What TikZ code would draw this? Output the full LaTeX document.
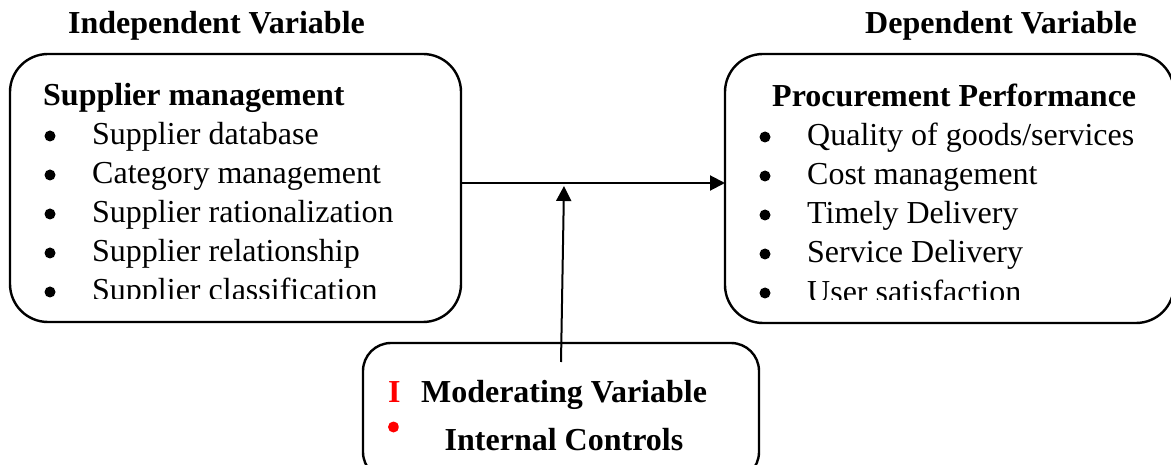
\documentclass[tikz,border=0pt]{standalone}
\usepackage{fontspec}
\setmainfont{Liberation Serif}
\usetikzlibrary{arrows.meta}
\tikzset{
  box/.style={draw=black, line width=2.4pt, rounded corners=38pt, inner sep=0pt, outer sep=0pt},
  mbox/.style={draw=black, line width=2.4pt, rounded corners=28pt, inner sep=0pt, outer sep=0pt},
  ttl/.style={font=\fontsize{32}{38}\selectfont\bfseries, inner sep=0pt, anchor=base west},
  itm/.style={font=\fontsize{32}{38}\selectfont, inner sep=0pt, anchor=base west},
  bul/.style={circle, fill=black, inner sep=0pt, minimum size=11pt},
  arr/.style={line width=2pt, -{Triangle[length=15pt,width=15pt]}}
}
\begin{document}
\begin{tikzpicture}[x=1pt,y=-1pt]
\clip (0,0) rectangle (1171,465);
\fill[white] (0,0) rectangle (1171,465);
% boxes
\node[box, minimum width=451pt, minimum height=268pt] (L) at (235.5,188) {};
\node[box, minimum width=449pt, minimum height=269pt] (R) at (949.5,188.5) {};
\node[mbox, minimum width=396pt, minimum height=137pt] (M) at (561,411.5) {};
% top labels
\node[ttl] (iv) at (68,34) {Independent Variable};
\node[ttl] (dv) at (865,34) {Dependent Variable};
% left box text
\node[ttl] (lt) at (43,106) {Supplier management};
\begin{scope}
\clip (0,0) rectangle (700,299);
\foreach \t [count=\i] in {Supplier database, Category management, Supplier rationalization, Supplier relationship, Supplier classification}{
  \node[bul] (lb\i) at (50,97+39*\i) {};
  \node[itm] (li\i) at (92,106+39*\i) {\t};
}
\end{scope}
% right box text
\node[ttl] (rt) at (772,107) {Procurement Performance};
\begin{scope}
\clip (700,0) rectangle (1171,300);
\foreach \t [count=\i] in {Quality of goods/services, Cost management, Timely Delivery, Service Delivery, User satisfaction}{
  \node[bul] (rb\i) at (765,98+39*\i) {};
  \node[itm] (ri\i) at (807,107+39*\i) {\t};
}
\end{scope}
% moderating box text
\node[ttl, anchor=base] (mv) at (564,402) {Moderating Variable};
\node[ttl, anchor=base] (ic) at (564,450) {Internal Controls};
\node[ttl, text=red] (ri) at (388,402) {I};
\begin{scope}
\clip (380,415) rectangle (398.5,440);
\fill[red] (393.5,427) circle (5.5) coordinate (rd);
\end{scope}
% connectors
\draw[arr] (L.east |- 0,183) coordinate (ls) -- (R.west |- ls);
\coordinate (ms) at (561,362);
\coordinate (mt) at (564,186);
\draw[arr] (ms) -- (mt);
\end{tikzpicture}
\end{document}
